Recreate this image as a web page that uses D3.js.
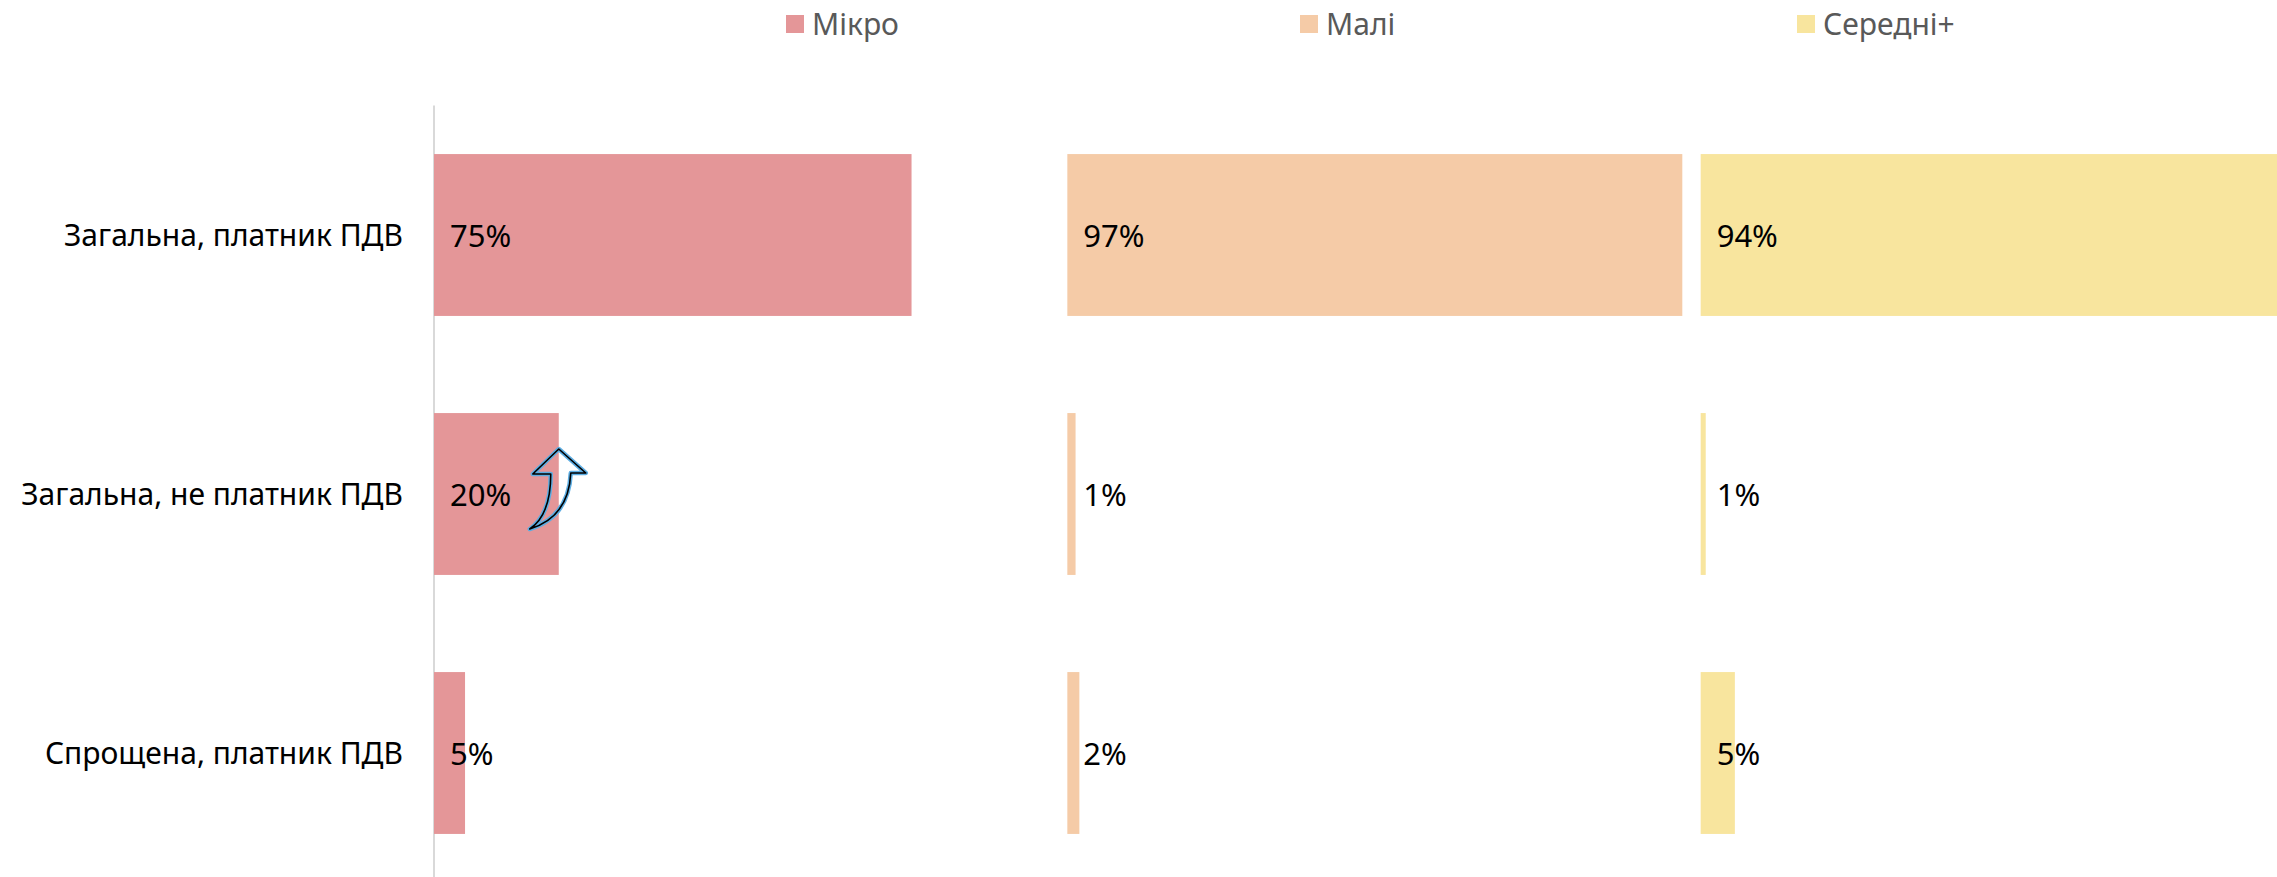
<!DOCTYPE html>
<html>
<head>
<meta charset="utf-8">
<script src="https://cdn.jsdelivr.net/npm/d3@7"></script>
<style>
  html, body { margin: 0; padding: 0; background: #fff; }
  svg { display: block; font-family: 'Noto Sans', 'DejaVu Sans', sans-serif; }
</style>
</head>
<body>
<div id="chart"></div>
<script>
const categories = ['Загальна, платник ПДВ', 'Загальна, не платник ПДВ', 'Спрощена, платник ПДВ'];
const seriesNames = ['Мікро', 'Малі', 'Середні+'];
const seriesColors = ['#E49698', '#F5CBA7', '#F8E59E'];
const micro = [75.4, 19.7, 4.9];
const mali = [97.1, 1.3, 1.9];
const seredni = [94, 0.8, 5.4];
const seriesValues = [micro, mali, seredni];

const W = 2277, H = 877;
const svg = d3.select('#chart').append('svg')
  .attr('width', W)
  .attr('height', H);

// each panel is 100% wide, laid side by side
const x = d3.scaleLinear().domain([0, 300]).range([434, 2334]);
const y = d3.scaleBand().domain(categories).range([105.5, 882.5])
  .paddingInner(0.375).paddingOuter(0.1875);

const fmt = v => d3.format('.0f')(v) + '%';

// category axis line
svg.append('line')
  .attr('x1', x(0)).attr('x2', x(0))
  .attr('y1', y.range()[0]).attr('y2', H)
  .attr('stroke', '#D9D9D9')
  .attr('stroke-width', 2);

// category labels
svg.append('g')
  .selectAll('text')
  .data(categories)
  .join('text')
  .attr('x', x(0) - 31)
  .attr('y', d => y(d) + y.bandwidth() / 2)
  .attr('dy', '0.36em')
  .attr('text-anchor', 'end')
  .attr('font-size', 30)
  .attr('fill', '#000')
  .text(d => d);

seriesValues.forEach((vals, si) => {
  const base = si * 100;
  const g = svg.append('g');
  g.selectAll('rect')
    .data(vals)
    .join('rect')
    .attr('x', x(base))
    .attr('y', (d, i) => y(categories[i]))
    .attr('width', d => x(base + d) - x(base))
    .attr('height', y.bandwidth())
    .attr('fill', seriesColors[si]);
  g.selectAll('text')
    .data(vals)
    .join('text')
    .attr('x', x(base) + 16)
    .attr('y', (d, i) => y(categories[i]) + y.bandwidth() / 2)
    .attr('dy', '0.38em')
    .attr('font-size', 31)
    .attr('fill', '#000')
    .text(d => fmt(d));
});

// legend
const legendX = [786, 1300, 1797];
const legend = svg.append('g')
  .selectAll('g')
  .data(seriesNames)
  .join('g')
  .attr('transform', (d, i) => `translate(${legendX[i]},15)`);
legend.append('rect')
  .attr('width', 18).attr('height', 18)
  .attr('fill', (d, i) => seriesColors[i]);
legend.append('text')
  .attr('x', 26)
  .attr('y', 20)
  .attr('font-size', 30)
  .attr('fill', '#595959')
  .text(d => d);

// curved arrow annotation at the end of the 20% bar
const ax = x(micro[1]);
const ay = y(categories[1]) + y.bandwidth() / 2;
const arrowPath = `M0,-45 L27,-21 L12,-21 Q10,23 -29,35 Q-8,21 -8,-20 L-26,-20 Z`;
const arrow = svg.append('g').attr('transform', `translate(${ax},${ay})`);
arrow.append('path')
  .attr('d', arrowPath)
  .attr('fill', 'none')
  .attr('stroke', '#5DADE2')
  .attr('stroke-width', 4.5)
  .attr('stroke-linejoin', 'round');
arrow.append('path')
  .attr('d', arrowPath)
  .attr('fill', 'none')
  .attr('stroke', '#000')
  .attr('stroke-width', 1.6)
  .attr('stroke-linejoin', 'round');
</script>
</body>
</html>
